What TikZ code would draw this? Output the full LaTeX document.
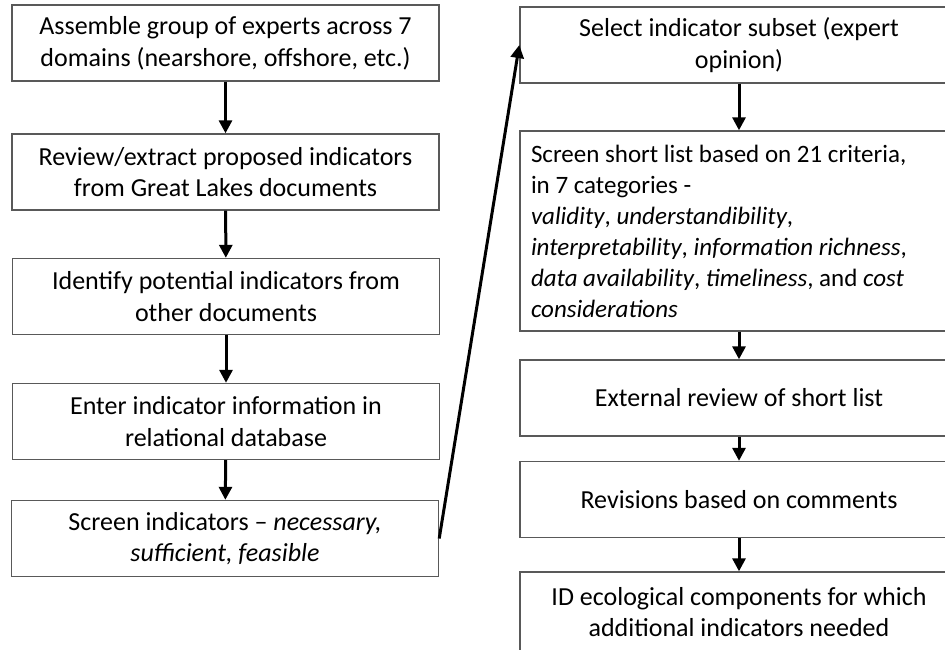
\documentclass[tikz,border=0pt]{standalone}
\usepackage{fontspec}
\setmainfont{Carlito}
\usetikzlibrary{arrows.meta}

\tikzset{
	stepbox/.style={draw=black!65, line width=0.7pt, align=center, minimum width=213.5pt, minimum height=38pt, inner sep=0pt, font=\fontsize{13}{15.8}\selectfont},
	widebox/.style={stepbox, minimum width=219pt},
	flowarrow/.style={line width=1.5pt, -{Triangle[length=6.5pt, width=6.5pt]}}
}

\begin{document}
\begin{tikzpicture}[x=0.5pt, y=-0.5pt]
			\useasboundingbox (0,0) rectangle (945,649);
			\node[stepbox] (b1) at (225.5,43) {Assemble group of experts across 7\\domains (nearshore, offshore, etc.)};
			\node[stepbox] (b2) at (225.5,172) {Review/extract proposed indicators\\from Great Lakes documents};
			\node[stepbox] (b3) at (226,296.5) {Identify potential indicators from\\other documents};
			\node[stepbox] (b4) at (226,421.5) {Enter indicator information in\\relational database};
			\node[stepbox] (b5) at (225,538.5) {Screen indicators -- \textit{necessary,}\\\textit{sufficient, feasible}};
			\node[widebox] (r1) at (739,45) {Select indicator subset (expert\\opinion)};
			\node[widebox, minimum height=100pt, text width=208pt, align=flush left, font=\fontsize{12.5}{15.5}\selectfont] (r2) at (739,231) {Screen short list based on 21 criteria,\\in 7 categories -\\\textit{validity}, \textit{understandibility},\\\textit{interpretability}, \textit{information richness},\\\textit{data availability}, \textit{timeliness}, and \textit{cost}\\\textit{considerations}};
			\node[widebox] (r3) at (739,398) {External review of short list};
			\node[widebox] (r4) at (739,499.5) {Revisions based on comments};
			\node[widebox, minimum height=40pt] (r5) at (739,612) {ID ecological components for which\\additional indicators needed};
			\draw[flowarrow] (b1) -- (b2);
			\draw[flowarrow] (b2) -- (b3);
			\draw[flowarrow] (b3) -- (b4);
			\draw[flowarrow] (b4) -- (b5);
			\draw[flowarrow] (b5.east) -- (r1.west);
			\draw[flowarrow] (r1) -- (r2);
			\draw[flowarrow] (r2) -- (r3);
			\draw[flowarrow] (r3) -- (r4);
			\draw[flowarrow] (r4) -- (r5);
\end{tikzpicture}
\end{document}
